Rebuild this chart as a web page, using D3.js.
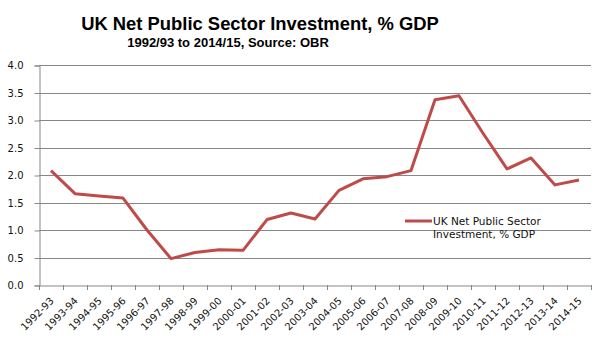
<!DOCTYPE html>
<html>
<head>
<meta charset="utf-8">
<script src="https://cdn.jsdelivr.net/npm/d3@7"></script>
<style>
  body { margin: 0; background: #fff; }
</style>
</head>
<body>
<svg width="605" height="352"></svg>
<script>
var years = ["1992-93", "1993-94", "1994-95", "1995-96", "1996-97", "1997-98", "1998-99",
  "1999-00", "2000-01", "2001-02", "2002-03", "2003-04", "2004-05", "2005-06", "2006-07",
  "2007-08", "2008-09", "2009-10", "2010-11", "2011-12", "2012-13", "2013-14", "2014-15"];

var investment = [2.08, 1.66, 1.62, 1.58, 1.0, 0.48, 0.59, 0.64, 0.63, 1.19, 1.31, 1.2,
  1.72, 1.93, 1.97, 2.08, 3.37, 3.44, 2.76, 2.11, 2.31, 1.82, 1.91];

var yTicks = [0, 0.5, 1, 1.5, 2, 2.5, 3, 3.5, 4];

var svg = d3.select("svg");

var tickFont = "DejaVu Sans, Verdana, sans-serif";
var titleFont = "Liberation Sans, Arial, sans-serif";

var margin = {left: 39, right: 591, top: 65, bottom: 285};

var x = d3.scaleBand()
  .domain(years)
  .range([margin.left, margin.right]);

var y = d3.scaleLinear()
  .domain([0, 4])
  .range([margin.bottom, margin.top]);

// title
svg.append("text")
  .attr("x", 260)
  .attr("y", 30)
  .attr("text-anchor", "middle")
  .style("font-family", titleFont)
  .style("font-size", "18.4px")
  .style("font-weight", "bold")
  .attr("fill", "#000")
  .text("UK Net Public Sector Investment, % GDP");

svg.append("text")
  .attr("x", 228)
  .attr("y", 47)
  .attr("text-anchor", "middle")
  .style("font-family", titleFont)
  .style("font-size", "13px")
  .style("font-weight", "bold")
  .attr("fill", "#000")
  .text("1992/93 to 2014/15, Source: OBR");

// gridlines
svg.append("g")
  .selectAll("line")
  .data(yTicks.slice(1))
  .enter().append("line")
  .attr("x1", margin.left)
  .attr("x2", margin.right)
  .attr("y1", function(d) { return Math.round(y(d)) + 0.5; })
  .attr("y2", function(d) { return Math.round(y(d)) + 0.5; })
  .attr("stroke", "#878787")
  .attr("stroke-width", 1);

// y axis
var yAxis = svg.append("g")
  .attr("transform", "translate(" + (margin.left + 0.5) + ",0.5)")
  .call(d3.axisLeft(y).tickValues(yTicks).tickFormat(d3.format(".1f")).tickSize(5).tickPadding(11));

yAxis.select(".domain").attr("stroke", "#878787");
yAxis.selectAll(".tick line").attr("stroke", "#878787");
yAxis.selectAll(".tick text")
  .style("font-family", tickFont)
  .style("font-size", "10px")
  .attr("fill", "#111");

// x axis
var xAxis = svg.append("g")
  .attr("transform", "translate(0," + (margin.bottom + 0.5) + ")")
  .call(d3.axisBottom(x).tickSize(0).tickFormat(""));

xAxis.select(".domain").attr("stroke", "#878787");

// category boundary ticks
svg.append("g")
  .selectAll("line")
  .data(years.concat(["end"]))
  .enter().append("line")
  .attr("x1", function(d, i) { return Math.round(margin.left + i * x.step()) + 0.5; })
  .attr("x2", function(d, i) { return Math.round(margin.left + i * x.step()) + 0.5; })
  .attr("y1", margin.bottom)
  .attr("y2", margin.bottom + 5)
  .attr("stroke", "#878787");

svg.append("g")
  .selectAll("text")
  .data(years)
  .enter().append("text")
  .attr("text-anchor", "end")
  .style("font-family", tickFont)
  .style("font-size", "10px")
  .attr("fill", "#111")
  .attr("transform", function(d) {
    return "translate(" + (x(d) + x.bandwidth() / 2 + 1) + "," + (margin.bottom + 14) + ") rotate(-45)";
  })
  .attr("dy", "0.35em")
  .text(function(d) { return d; });

// line
var line = d3.line()
  .x(function(d, i) { return x(years[i]) + x.bandwidth() / 2; })
  .y(function(d) { return y(d); });

svg.append("path")
  .datum(investment)
  .attr("fill", "none")
  .attr("stroke", "#be4b48")
  .attr("stroke-width", 3)
  .attr("stroke-linejoin", "round")
  .attr("d", line);

// legend
var legend = svg.append("g");
legend.append("line")
  .attr("x1", 405)
  .attr("x2", 432)
  .attr("y1", 221)
  .attr("y2", 221)
  .attr("stroke", "#be4b48")
  .attr("stroke-width", 3);

legend.append("text")
  .attr("x", 433)
  .attr("y", 225)
  .style("font-family", tickFont)
  .style("font-size", "10.5px")
  .attr("fill", "#111")
  .text("UK Net Public Sector");

legend.append("text")
  .attr("x", 433)
  .attr("y", 238)
  .style("font-family", tickFont)
  .style("font-size", "10.5px")
  .attr("fill", "#111")
  .text("Investment, % GDP");
</script>
</body>
</html>
